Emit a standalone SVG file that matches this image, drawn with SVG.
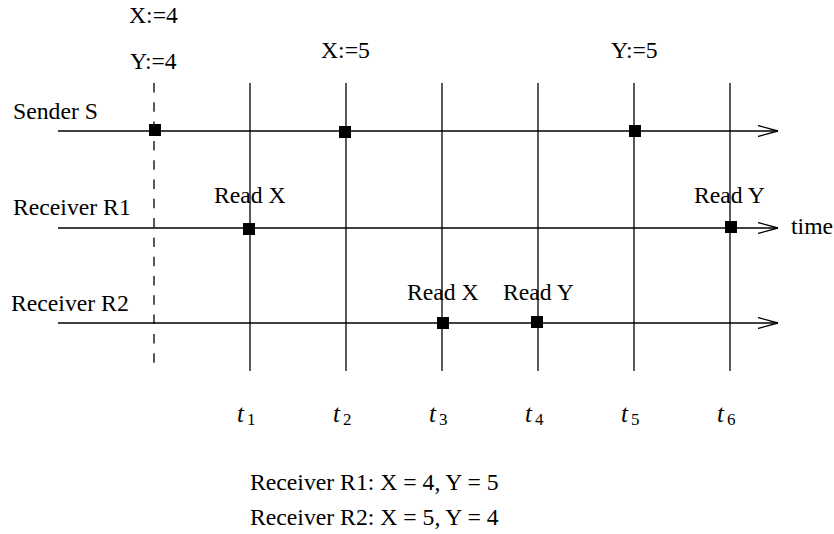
<svg xmlns="http://www.w3.org/2000/svg" width="834" height="534" viewBox="0 0 834 534">
<defs>
<style>
.ln{stroke:#000;stroke-width:1.3;fill:none}
.dash{stroke:#000;stroke-width:1.3;stroke-dasharray:9.5 9.8;fill:none}
text{font-family:'Liberation Serif','DejaVu Serif',serif;fill:#000}
.txt{font-size:23.7px}
.ti{font-size:25px;font-style:italic}
.sub{font-size:17px;font-style:normal}
.ev{fill:#000}
</style>
<marker id="arr" viewBox="0 0 20 12" refX="20" refY="6" markerWidth="20" markerHeight="12" markerUnits="userSpaceOnUse" orient="auto">
<path d="M0,0.5 L20,6 L0,11.5" fill="none" stroke="#000" stroke-width="1.3"/>
</marker>
</defs>
<rect width="834" height="534" fill="#fff"/>
<g id="connectors">
<line class="ln" x1="58" y1="131" x2="778" y2="131" marker-end="url(#arr)"/>
<line class="ln" x1="58" y1="228" x2="778" y2="228" marker-end="url(#arr)"/>
<line class="ln" x1="58" y1="323" x2="778" y2="323" marker-end="url(#arr)"/>
<line class="dash" x1="154" y1="83" x2="154" y2="364"/>
<line class="ln" x1="250" y1="83" x2="250" y2="371"/>
<line class="ln" x1="346" y1="83" x2="346" y2="371"/>
<line class="ln" x1="442" y1="83" x2="442" y2="371"/>
<line class="ln" x1="538" y1="83" x2="538" y2="371"/>
<line class="ln" x1="634" y1="83" x2="634" y2="371"/>
<line class="ln" x1="730" y1="83" x2="730" y2="371"/>
</g>
<g id="labels">
<text class="txt" x="129" y="23">X:=4</text>
<text class="txt" x="130" y="69">Y:=4</text>
<text class="txt" x="321" y="58">X:=5</text>
<text class="txt" x="611" y="58">Y:=5</text>
<text class="txt" x="13" y="119">Sender S</text>
<text class="txt" x="13" y="215">Receiver R1</text>
<text class="txt" x="11" y="311">Receiver R2</text>
<text class="txt" x="791" y="234">time</text>
</g>
<g id="sender-events">
<rect class="ev" x="149" y="124" width="12" height="12"/>
<rect class="ev" x="339" y="126" width="12" height="12"/>
<rect class="ev" x="629" y="125" width="12" height="12"/>
</g>
<g id="r1-read-x">
<text class="txt" x="214" y="203">Read X</text>
<rect class="ev" x="243" y="223" width="12" height="12"/>
</g>
<g id="r1-read-y">
<text class="txt" x="694" y="203">Read Y</text>
<rect class="ev" x="725" y="221" width="12" height="12"/>
</g>
<g id="r2-read-x">
<text class="txt" x="407" y="300">Read X</text>
<rect class="ev" x="437" y="317" width="12" height="12"/>
</g>
<g id="r2-read-y">
<text class="txt" x="503" y="300">Read Y</text>
<rect class="ev" x="531" y="316" width="12" height="12"/>
</g>
<g id="time-ticks">
<text class="ti" x="237" y="422">t<tspan class="sub" dx="3" dy="3">1</tspan></text>
<text class="ti" x="333" y="422">t<tspan class="sub" dx="3" dy="3">2</tspan></text>
<text class="ti" x="429" y="422">t<tspan class="sub" dx="3" dy="3">3</tspan></text>
<text class="ti" x="525" y="422">t<tspan class="sub" dx="3" dy="3">4</tspan></text>
<text class="ti" x="621" y="422">t<tspan class="sub" dx="3" dy="3">5</tspan></text>
<text class="ti" x="717" y="422">t<tspan class="sub" dx="3" dy="3">6</tspan></text>
</g>
<g id="summary">
<text class="txt" x="250" y="490">Receiver R1: X = 4, Y = 5</text>
<text class="txt" x="250" y="525">Receiver R2: X = 5, Y = 4</text>
</g>
</svg>
